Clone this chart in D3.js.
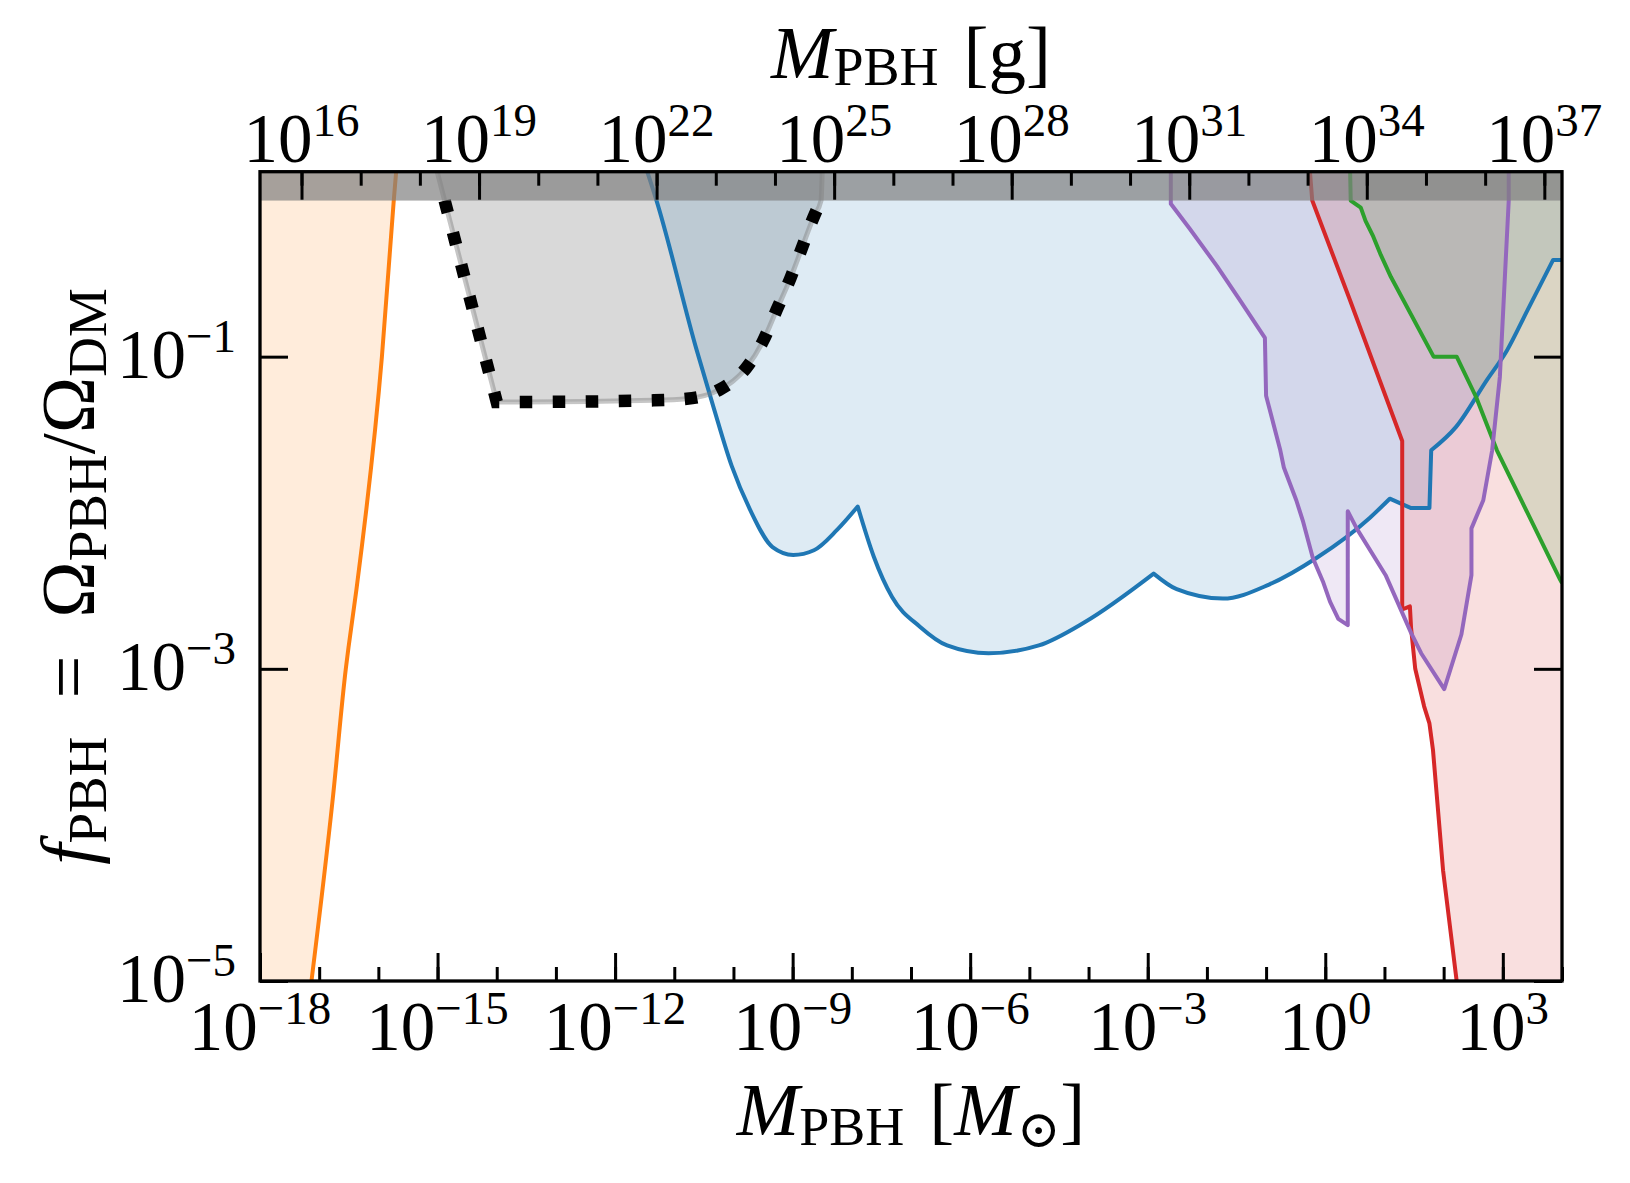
<!DOCTYPE html>
<html><head><meta charset="utf-8">
<script src="https://cdn.jsdelivr.net/npm/d3@7"></script>
<style>
body{margin:0;background:#fff;}
text{font-family:"Liberation Serif","DejaVu Serif",serif;fill:#000;}
</style></head><body>
<svg id="chart" width="1630" height="1183"></svg>
<script>
// ---------------- data (log10 M[M_sun], log10 f_PBH) ----------------
const MSUN_G = 1.989e33;
const xDomainExp = [-18, 4];
const yDomainExp = [-5, 0.185];
const bottomMinorExp = [-18,-17,-16,-15,-14,-13,-12,-11,-10,-9,-8,-7,-6,-5,-4,-3,-2,-1,0,1,2,3,4];
const bottomMajorExp = [-18,-15,-12,-9,-6,-3,0,3];
const topMinorExp = [16,17,18,19,20,21,22,23,24,25,26,27,28,29,30,31,32,33,34,35,36,37];
const topMajorExp = [16,19,22,25,28,31,34,37];
const yMajorExp = [-5,-3,-1];

const orangeCurve = [[-17.13,-5],[-16.77,-3.83],[-16.55,-3.0],[-16.50,-2.85],[-16.37,-2.49],[-15.94,-1],[-15.74,0],[-15.63,0.5]];

const greyRegion = [[-15.01,0.19],[-14.88,0.0],[-14.0,-1.29],[-13.55,-1.29],[-11.35,-1.28],[-10.79,-1.27],[-10.23,-1.21],[-9.78,-1.07],[-9.50,-0.90],[-9.27,-0.70],[-9.04,-0.50],[-8.85,-0.31],[-8.65,-0.11],[-8.52,0.0],[-8.50,0.19]];

const blueCurve = [[-11.46,0.19],[-11.30,0.0],[-10.62,-0.96],[-10.34,-1.32],[-10.03,-1.70],[-9.72,-1.98],[-9.34,-2.22],[-8.99,-2.27],[-8.64,-2.24],[-8.25,-2.11],[-7.90,-1.96],[-7.63,-2.28],[-7.32,-2.54],[-6.85,-2.73],[-6.39,-2.85],[-5.69,-2.90],[-4.84,-2.85],[-4.06,-2.70],[-2.90,-2.39],[-2.51,-2.49],[-1.73,-2.55],[-0.95,-2.46],[-0.15,-2.29],[0.76,-2.03],[1.09,-1.91],[1.45,-1.97],[1.76,-1.97],[1.79,-1.60],[2.21,-1.45],[2.73,-1.15],[3.07,-0.96],[3.42,-0.70],[3.85,-0.38],[4.0,-0.38]];
// index ranges of blueCurve: [start, end, smooth?]
const blueSegments = [[0,10,true],[10,18,true],[18,24,true],[24,27,false],[27,32,true],[32,33,false]];

const purpleCurve = [[-2.61,0.19],[-2.61,-0.02],[-2.29,-0.18],[-1.83,-0.42],[-1.44,-0.64],[-1.02,-0.88],[-1.00,-1.25],[-0.76,-1.60],[-0.70,-1.71],[-0.49,-1.92],[-0.38,-2.05],[-0.21,-2.29],[-0.04,-2.44],[0.08,-2.57],[0.22,-2.68],[0.38,-2.72],[0.38,-1.99],[0.53,-2.10],[1.02,-2.40],[1.45,-2.77],[1.62,-2.90],[2.01,-3.13],[2.30,-2.78],[2.47,-2.40],[2.47,-2.10],[2.67,-1.92],[2.82,-1.60],[2.95,-1.13],[3.04,-0.45],[3.10,0.0],[3.10,0.19]];

const redCurve = [[-0.26,0.19],[-0.22,0.0],[0.42,-0.64],[1.30,-1.54],[1.30,-2.62],[1.43,-2.60],[1.45,-2.74],[1.52,-3.00],[1.67,-3.24],[1.76,-3.35],[1.82,-3.52],[1.99,-4.29],[2.22,-5.0]];

const greenCurve = [[0.42,0.19],[0.43,0.0],[0.60,-0.045],[0.68,-0.13],[0.81,-0.23],[0.94,-0.35],[1.11,-0.49],[1.83,-1.0],[2.22,-1.0],[2.55,-1.26],[2.90,-1.60],[3.97,-2.43],[4.0,-2.45]];

// ---------------- layout ----------------
const L = 260, R = 1562, T = 171.7, B = 981;
const svg = d3.select("#chart");

const x = d3.scaleLog().domain([10**xDomainExp[0], 10**xDomainExp[1]]).range([L, R]);
const xg = d3.scaleLog().domain([10**xDomainExp[0]*MSUN_G, 10**xDomainExp[1]*MSUN_G]).range([L, R]);
const y = d3.scaleLog().domain([10**yDomainExp[0], 10**yDomainExp[1]]).range([B, T]);

const px = d => x(10**d[0]);
const py = d => y(10**d[1]);
const lin = d3.line().x(px).y(py);
const smooth = d3.line().x(px).y(py).curve(d3.curveMonotoneX);

function joinParts(parts){
  return parts.map((p,i) => i === 0 ? p : "L" + p.slice(1)).join("");
}
const blueD = joinParts(blueSegments.map(([a,b,s]) => (s ? smooth : lin)(blueCurve.slice(a, b+1))));
const orangeD = smooth(orangeCurve);
const greyD = joinParts([lin(greyRegion.slice(0,3)), smooth(greyRegion.slice(2))]);
const greyDotD = joinParts([lin(greyRegion.slice(1,3)), smooth(greyRegion.slice(2, greyRegion.length-1))]);

svg.append("defs").append("clipPath").attr("id","clip")
  .append("rect").attr("x",L).attr("y",T).attr("width",R-L).attr("height",B-T);
const g = svg.append("g").attr("clip-path","url(#clip)");

const yTopE = yDomainExp[1] + 0.05, yBotE = yDomainExp[0] - 0.05;
const xLeftE = xDomainExp[0] - 0.05, xRightE = xDomainExp[1] + 0.05;
const tail = pts => "L" + lin(pts).slice(1) + "Z";

// fills
g.append("path").attr("d", orangeD + tail([[xLeftE,yTopE],[xLeftE,yBotE],[orangeCurve[0][0],yBotE]]))
  .attr("fill","#ff7f0e").attr("fill-opacity",0.15);
g.append("path").attr("d", greyD + tail([[greyRegion[greyRegion.length-1][0], yTopE],[greyRegion[0][0], yTopE]]))
  .attr("fill","#808080").attr("fill-opacity",0.3);
g.append("path").attr("d", blueD + tail([[xRightE,blueCurve[blueCurve.length-1][1]], [xRightE,yTopE], [blueCurve[0][0],yTopE]]))
  .attr("fill","#1f77b4").attr("fill-opacity",0.15);
g.append("path").attr("d", lin(purpleCurve) + tail([[purpleCurve[purpleCurve.length-1][0], yTopE], [purpleCurve[0][0], yTopE]]))
  .attr("fill","#9467bd").attr("fill-opacity",0.15);
g.append("path").attr("d", lin(redCurve) + tail([[redCurve[redCurve.length-1][0], yBotE], [xRightE,yBotE], [xRightE,yTopE], [redCurve[0][0], yTopE]]))
  .attr("fill","#d62728").attr("fill-opacity",0.15);
g.append("path").attr("d", lin(greenCurve) + tail([[xRightE,greenCurve[greenCurve.length-1][1]], [xRightE,yTopE], [greenCurve[0][0], yTopE]]))
  .attr("fill","#2ca02c").attr("fill-opacity",0.15);

// lines
const lw = 4;
const stroke = (d, c) => g.append("path").attr("d", d).attr("fill","none").attr("stroke",c)
  .attr("stroke-width",lw).attr("stroke-linejoin","round");
stroke(orangeD, "#ff7f0e");
stroke(blueD, "#1f77b4");
stroke(lin(redCurve), "#d62728");
stroke(lin(greenCurve), "#2ca02c");
stroke(lin(purpleCurve), "#9467bd");
g.append("path").attr("d", greyD).attr("fill","none").attr("stroke","#808080").attr("stroke-opacity",0.45).attr("stroke-width",5);
g.append("path").attr("d", greyDotD).attr("fill","none")
  .attr("stroke","#000").attr("stroke-width",12.5).attr("stroke-dasharray","12.5,20.5");

// f > 1 band
g.append("rect").attr("x",L).attr("width",R-L).attr("y",T).attr("height",y(1)-T)
  .attr("fill","#808080").attr("fill-opacity",0.7);

// ---------------- axes ----------------
function styleAxis(sel){
  sel.select(".domain").remove();
  sel.selectAll("line").attr("stroke","#000").attr("stroke-width",3);
}
svg.append("g").attr("transform",`translate(0,${B})`)
  .call(d3.axisBottom(x).tickValues(bottomMinorExp.map(e=>10**e)).tickSize(-14).tickFormat("")).call(styleAxis);
svg.append("g").attr("transform",`translate(0,${B})`)
  .call(d3.axisBottom(x).tickValues(bottomMajorExp.map(e=>10**e)).tickSize(-28).tickFormat("")).call(styleAxis);
svg.append("g").attr("transform",`translate(0,${T})`)
  .call(d3.axisTop(xg).tickValues(topMinorExp.map(e=>10**e)).tickSize(-14).tickFormat("")).call(styleAxis);
svg.append("g").attr("transform",`translate(0,${T})`)
  .call(d3.axisTop(xg).tickValues(topMajorExp.map(e=>10**e)).tickSize(-28).tickFormat("")).call(styleAxis);
svg.append("g").attr("transform",`translate(${L},0)`)
  .call(d3.axisLeft(y).tickValues(yMajorExp.map(e=>10**e)).tickSize(-28).tickFormat("")).call(styleAxis);
svg.append("g").attr("transform",`translate(${R},0)`)
  .call(d3.axisRight(y).tickValues(yMajorExp.map(e=>10**e)).tickSize(-28).tickFormat("")).call(styleAxis);

svg.append("rect").attr("x",L).attr("y",T).attr("width",R-L).attr("height",B-T)
  .attr("fill","none").attr("stroke","#000").attr("stroke-width",3.3);

// tick labels
function powLabel(e, xx, yy, anchor){
  const t = svg.append("text").attr("x",xx).attr("y",yy).attr("text-anchor",anchor).attr("font-size",69);
  t.append("tspan").text("10");
  t.append("tspan").attr("font-size",47).attr("dy",-26).text(e<0 ? "\u2212"+(-e) : String(e));
}
bottomMajorExp.forEach(e => powLabel(e, x(10**e), 1050, "middle"));
topMajorExp.forEach(e => powLabel(e, xg(10**e), 162, "middle"));
yMajorExp.forEach(e => powLabel(e, 236, y(10**e)+21, "end"));

// axis titles
function massLabel(xx, yy, unit, sub){
  const t = svg.append("text").attr("x",xx).attr("y",yy).attr("text-anchor","middle").attr("font-size",75);
  t.append("tspan").attr("font-style","italic").text("M");
  t.append("tspan").attr("font-size",54).attr("dy",sub).text("PBH");
  t.append("tspan").attr("dy",-sub).text("\u2004[");
  if (unit === "sun") {
    t.append("tspan").attr("font-style","italic").text("M");
    t.append("tspan").attr("font-size",52).attr("dy",12).text("\u2299");
    t.append("tspan").attr("dy",-12).text("]");
  } else {
    t.append("tspan").text("g]");
  }
}
massLabel((L+R)/2, 1135, "sun", 10);
massLabel((L+R)/2, 78, "g", 7);

const yl = svg.append("text").attr("transform",`translate(94,${(T+B)/2}) rotate(-90)`)
  .attr("text-anchor","middle").attr("font-size",76);
yl.append("tspan").attr("font-style","italic").text("f");
yl.append("tspan").attr("font-size",55).attr("dy",12).text("PBH");
yl.append("tspan").attr("dy",-12).text("\u2002=\u2002\u03A9");
yl.append("tspan").attr("font-size",55).attr("dy",12).text("PBH");
yl.append("tspan").attr("dy",-12).text("/\u03A9");
yl.append("tspan").attr("font-size",55).attr("dy",12).text("DM");
</script>
</body></html>
